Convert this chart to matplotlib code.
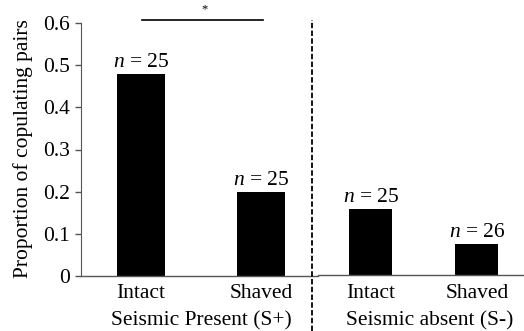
import matplotlib
matplotlib.use("Agg")
import matplotlib.pyplot as plt
from matplotlib.lines import Line2D

plt.rcParams['font.family'] = ['Liberation Serif', 'DejaVu Serif']
plt.rcParams['mathtext.fontset'] = 'custom'
plt.rcParams['mathtext.it'] = 'Liberation Serif:italic'
plt.rcParams['mathtext.rm'] = 'Liberation Serif'

categories = ["Intact", "Shaved", "Intact", "Shaved"]
groups = ["Seismic Present (S+)", "Seismic absent (S-)"]
values = [0.48, 0.20, 0.16, 0.077]
n_labels = [25, 25, 25, 26]
yticks = [0, 0.1, 0.2, 0.3, 0.4, 0.5, 0.6]
ytick_labels = ["0", "0.1", "0.2", "0.3", "0.4", "0.5", "0.6"]

FS = 15.5

# layout (pixel-like x units)
xpos = [141, 261, 371, 477]
widths = [48, 48, 43, 43]
group_x = [201, 430]

W, H = 524, 331
fig = plt.figure(figsize=(W / 100, H / 100), dpi=100)
ax = fig.add_axes([81 / W, (H - 276) / H, (W - 81) / W, 253 / H])

ax.bar(xpos, values, width=widths, color="black")
ax.set_xlim(81, 524)
ax.set_ylim(0, 0.6)
ax.set_yticks(yticks)
ax.set_yticklabels(ytick_labels, fontsize=FS)
ax.tick_params(axis='y', length=4, width=1, direction='out', pad=4, colors="#555555",
               labelcolor="black")
ax.set_xticks([])
for s in ["top", "right", "bottom"]:
    ax.spines[s].set_visible(False)
ax.spines["left"].set_color("#555555")

# two-piece baseline (two panels joined)
fig.add_artist(Line2D([81 / W, 318 / W], [(H - 276) / H] * 2, color="#555555", lw=1))
fig.add_artist(Line2D([318 / W, 1.0], [(H - 275) / H] * 2, color="#555555", lw=1))

fig.text(23 / W, (H - 149) / H, "Proportion of copulating pairs", rotation=90,
         ha="center", va="center", fontsize=FS)

for x, v, n in zip(xpos, values, n_labels):
    ax.annotate(r"$n$ = %d" % n, (x, v), xytext=(0, 1), textcoords="offset points",
                ha="center", va="bottom", fontsize=FS)

for x, c in zip(xpos, categories):
    fig.text(x / W, (H - 294) / H, c, ha="center", va="center", fontsize=FS)
for x, g in zip(group_x, groups):
    fig.text(x / W, (H - 321) / H, g, ha="center", va="center", fontsize=FS)

# significance bar
fig.add_artist(Line2D([142 / W, 263 / W], [(H - 20) / H] * 2, color="black", lw=1.2))
fig.text(205 / W, (H - 9) / H, "*", ha="center", va="center", fontsize=9)

# dashed divider
fig.add_artist(Line2D([312 / W, 312 / W], [0, (H - 20) / H], color="black", lw=1.3,
                      linestyle=(0, (3, 1.3))))

fig.savefig("out.png", dpi=100)
